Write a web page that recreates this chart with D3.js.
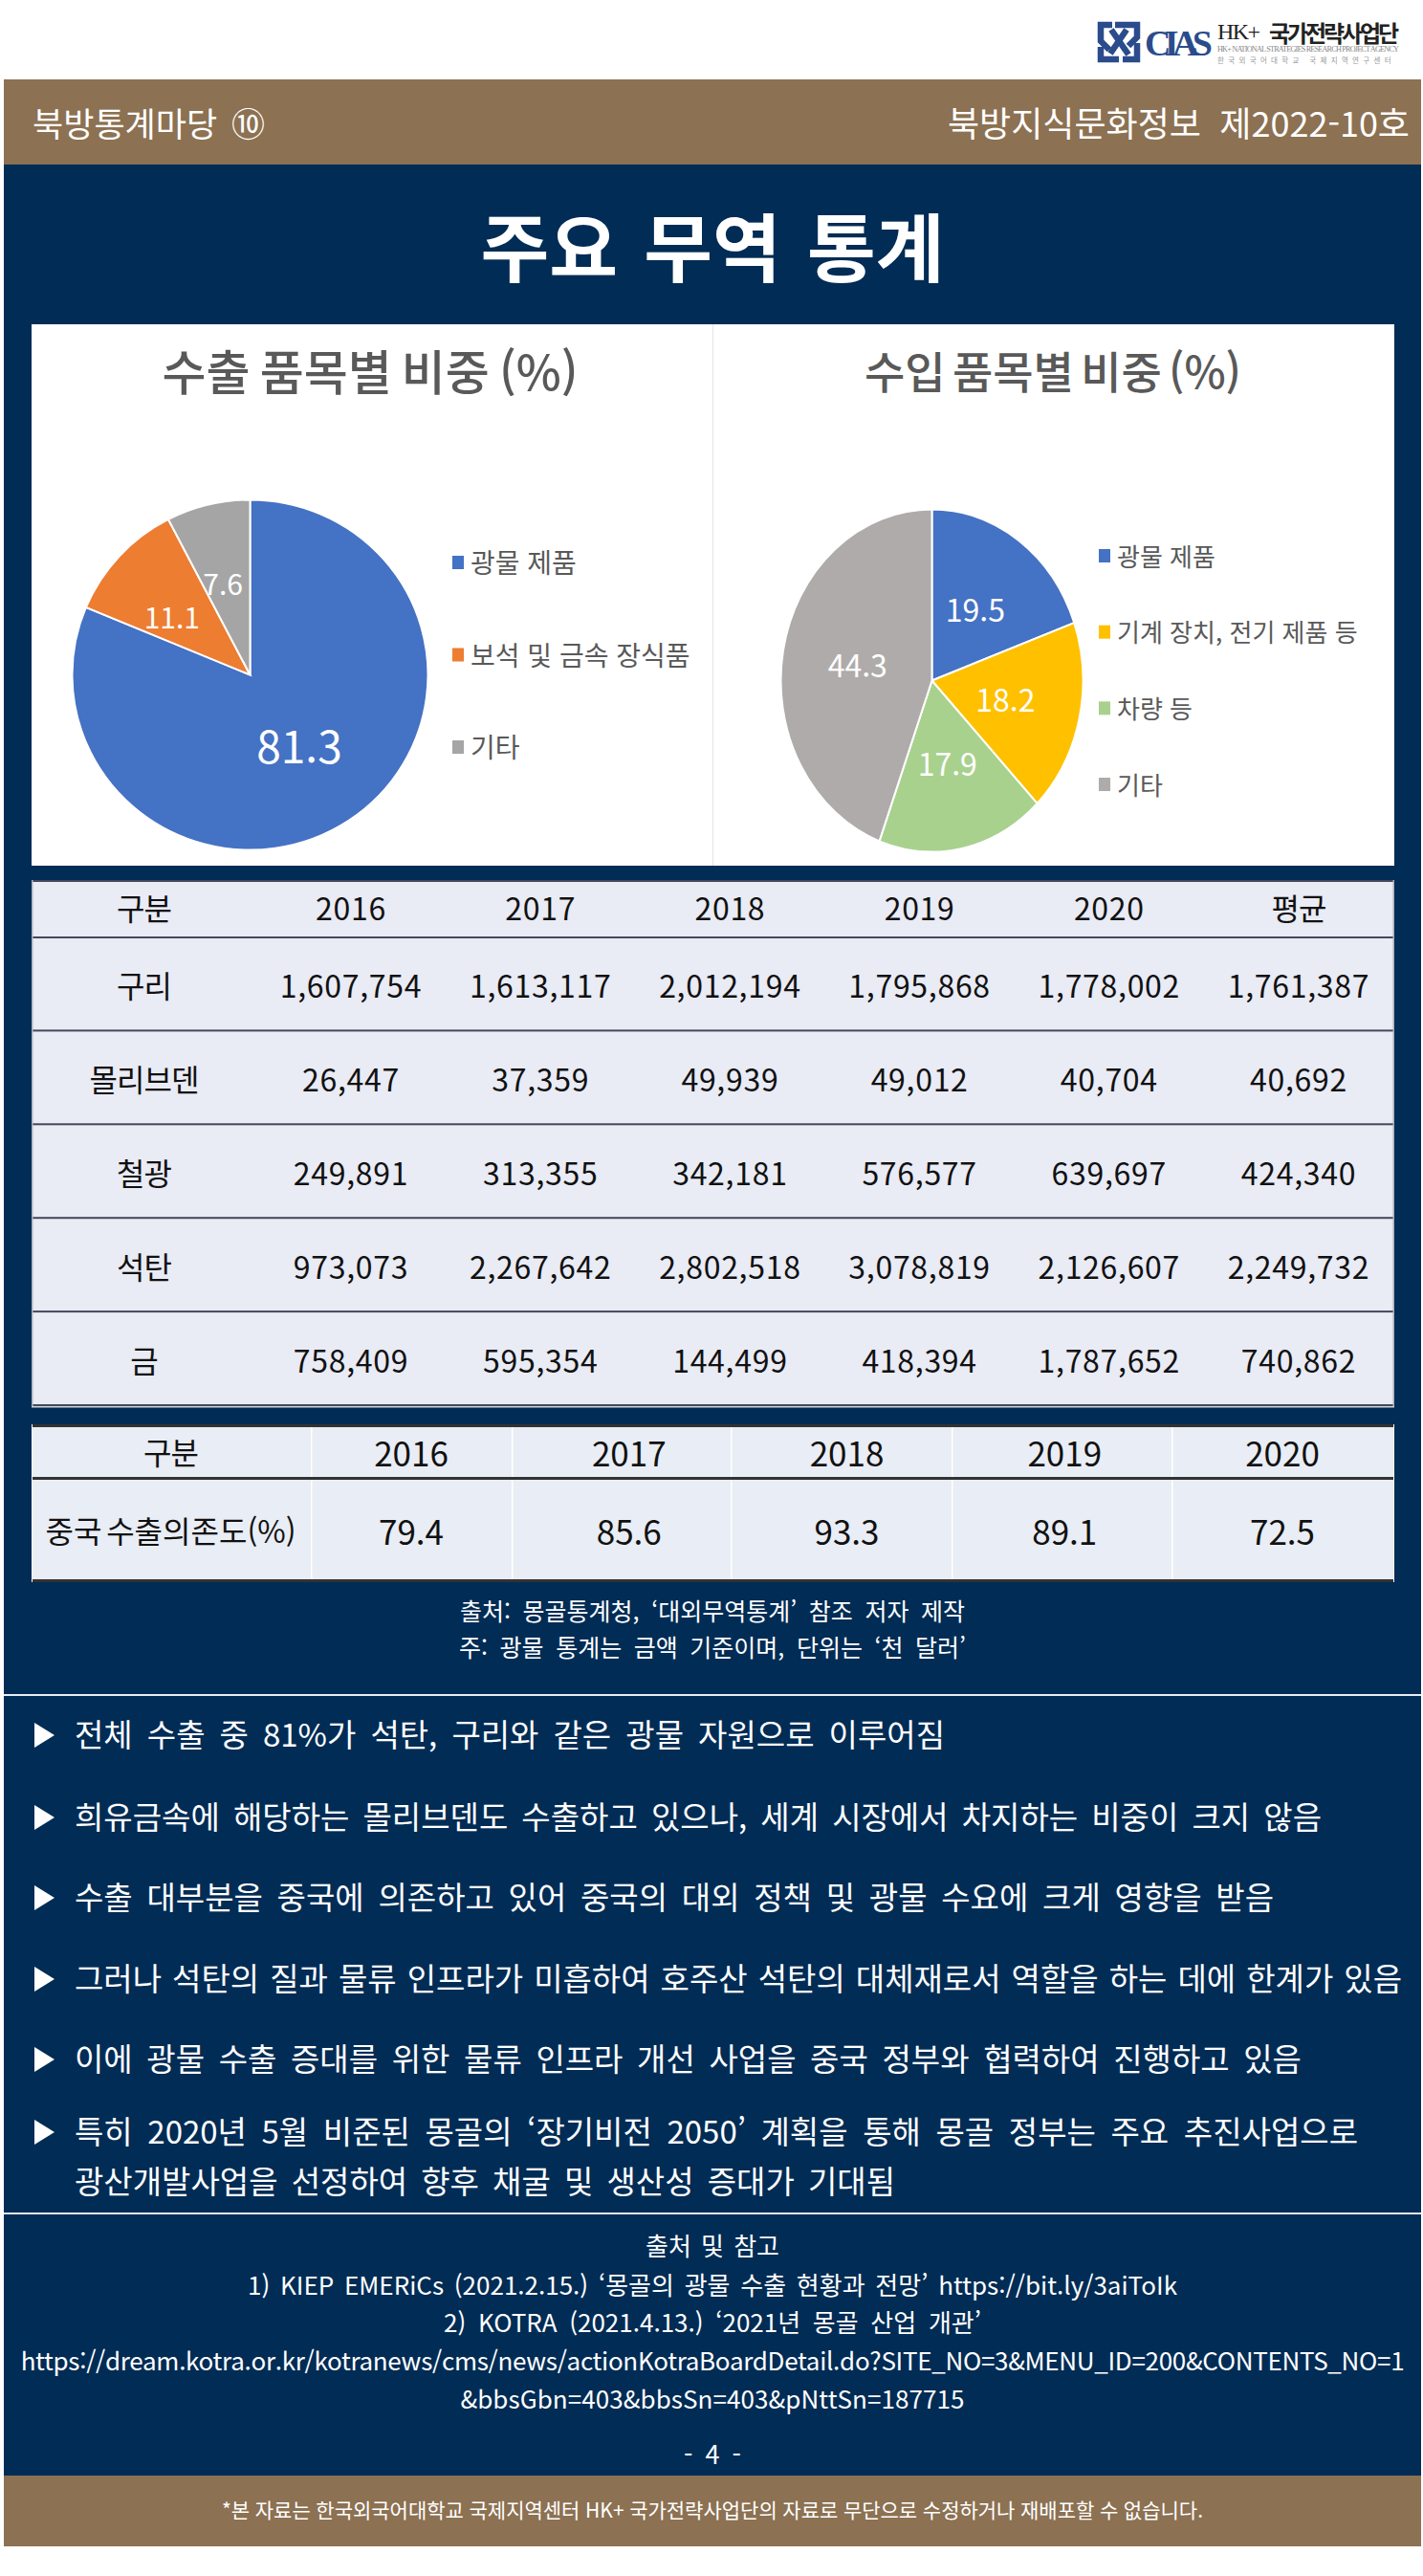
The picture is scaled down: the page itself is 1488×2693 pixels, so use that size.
<![CDATA[<!DOCTYPE html>
<html lang="ko"><head><meta charset="utf-8">
<script src="https://cdn.jsdelivr.net/npm/d3@7/dist/d3.min.js"></script>
<style>
html,body{margin:0;padding:0;background:#fff}
svg{display:block}
text{font-family:"Noto Sans CJK KR","Noto Sans",sans-serif}
</style></head><body>
<svg id="c" width="1488" height="2693"></svg>
<script>
const exportLabels = ["광물 제품","보석 및 금속 장식품","기타"];
const exportValues = [81.3,11.1,7.6];
const exportColors = ["#4472C4","#ED7D31","#A5A5A5"];
const importLabels = ["광물 제품","기계 장치, 전기 제품 등","차량 등","기타"];
const importValues = [19.5,18.2,17.9,44.3];
const importColors = ["#4472C4","#FFC000","#A9D18E","#AFABAB"];
const tableColumns = ["2016","2017","2018","2019","2020","평균"];
const tableRows = ["구리","몰리브덴","철광","석탄","금"];
const copper = ["1,607,754","1,613,117","2,012,194","1,795,868","1,778,002","1,761,387"];
const molybdenum = ["26,447","37,359","49,939","49,012","40,704","40,692"];
const ironOre = ["249,891","313,355","342,181","576,577","639,697","424,340"];
const coal = ["973,073","2,267,642","2,802,518","3,078,819","2,126,607","2,249,732"];
const gold = ["758,409","595,354","144,499","418,394","1,787,652","740,862"];
const tableValues = [copper,molybdenum,ironOre,coal,gold];
const dependYears = ["2016","2017","2018","2019","2020"];
const dependLabel = "중국 수출의존도(%)";
const dependValues = ["79.4","85.6","93.3","89.1","72.5"];
const notes = ["출처: 몽골통계청, ‘대외무역통계’ 참조 저자 제작","주: 광물 통계는 금액 기준이며, 단위는 ‘천 달러’"];
const bullets = ["전체 수출 중 81%가 석탄, 구리와 같은 광물 자원으로 이루어짐",
"희유금속에 해당하는 몰리브덴도 수출하고 있으나, 세계 시장에서 차지하는 비중이 크지 않음",
"수출 대부분을 중국에 의존하고 있어 중국의 대외 정책 및 광물 수요에 크게 영향을 받음",
"그러나 석탄의 질과 물류 인프라가 미흡하여 호주산 석탄의 대체재로서 역할을 하는 데에 한계가 있음",
"이에 광물 수출 증대를 위한 물류 인프라 개선 사업을 중국 정부와 협력하여 진행하고 있음",
"특히 2020년 5월 비준된 몽골의 ‘장기비전 2050’ 계획을 통해 몽골 정부는 주요 추진사업으로",
"광산개발사업을 선정하여 향후 채굴 및 생산성 증대가 기대됨"];
const sources = ["출처 및 참고","1) KIEP EMERiCs (2021.2.15.) ‘몽골의 광물 수출 현황과 전망’ https://bit.ly/3aiToIk","2) KOTRA (2021.4.13.) ‘2021년 몽골 산업 개관’","https://dream.kotra.or.kr/kotranews/cms/news/actionKotraBoardDetail.do?SITE_NO=3&MENU_ID=200&CONTENTS_NO=1","&bbsGbn=403&bbsSn=403&pNttSn=187715"];

const NAVY="#012C55", BROWN="#8C7152", LINE="#44495A";
const svg=d3.select("#c");

function T(x,y,s,size,opt={}){
  const t=svg.append("text").attr("x",x).attr("y",y-2).text(s)
    .attr("font-size",size).attr("fill",opt.fill||"#fff")
    .attr("text-anchor",opt.anchor||"start")
    .attr("dominant-baseline","central")
    .attr("font-weight",opt.weight||400);
  if(opt.family) t.style("font-family",opt.family);
  if(opt.ls!==undefined) t.attr("letter-spacing",opt.ls);
  if(opt.width){
    const len=t.node().getComputedTextLength();
    const sp=(s.match(/ /g)||[]).length;
    if(opt.letter||!sp) t.attr("letter-spacing",((opt.width-len)/Math.max(1,s.length-1)).toFixed(3));
    else t.attr("word-spacing",((opt.width-len)/sp).toFixed(3));
  }
  return t;
}
function R(x,y,w,h,f){return svg.append("rect").attr("x",x).attr("y",y).attr("width",w).attr("height",h).attr("fill",f);}

// page frame
R(4,172,1482,2416,NAVY);
R(4,83,1482,89,BROWN);
R(4,2588,1482,74,BROWN);
R(4,1771,1482,2,"#e8edf2");
R(4,2313,1482,2,"#e8edf2");

// logo
const m=svg.append("g").attr("transform","translate(1148,23)").attr("fill","none").attr("stroke","#2B4C8C").attr("stroke-width",6.5);
m.append("path").attr("d","M15 3H3V20L12 29");
m.append("path").attr("d","M18 3H41V16L32 25");
m.append("path").attr("d","M3 26V39H22");
m.append("path").attr("d","M26 39H41V22");
m.append("path").attr("d","M14 8L32 34");
m.append("path").attr("d","M30 8L13 33");
T(1197,47,"CIAS",38,{fill:"#2B4C8C",family:"Liberation Serif",weight:700,width:71});
T(1273,35,"HK+",24,{fill:"#222",family:"Liberation Serif",width:45});
T(1327,35,"국가전략사업단",24,{fill:"#222",weight:700,width:136,letter:true});
T(1273,53,"HK+ NATIONAL STRATEGIES RESEARCH PROJECT AGENCY",8.2,{fill:"#888",family:"Liberation Serif",width:190,letter:true});
T(1273,64,"한국외국어대학교  국제지역연구센터",7.5,{fill:"#999",width:186,letter:true});

// header / footer text
T(34,129,"북방통계마당 ⑩",35,{width:243});
T(1474,129,"북방지식문화정보 제2022-10호",36,{anchor:"end",width:483});
T(745,257,"주요 무역 통계",78,{anchor:"middle",weight:700,width:485});

// chart panel
R(33,339,1425,566,"#fff");
R(745,339,1,566,"#e4e4e4");
T(387,388,"수출 품목별 비중 (%)",50,{anchor:"middle",fill:"#595959",weight:500,width:435});
T(1101,388,"수입 품목별 비중 (%)",46,{anchor:"middle",fill:"#595959",weight:500,width:394});

function pie(values,labels,colors,cx,cy,rx,ry,labelSizes,labelR,nudge,legend,legendSize){
  const arcs=d3.pie().sort(null).value(d=>d)(values);
  const arc=d3.arc().innerRadius(0).outerRadius(ry);
  const g=svg.append("g").attr("transform",`translate(${cx},${cy}) scale(${rx/ry},1)`);
  g.selectAll("path").data(arcs).join("path").attr("d",arc)
    .attr("fill",(d,i)=>colors[i]).attr("stroke","#fff").attr("stroke-width",2)
    .attr("vector-effect","non-scaling-stroke");
  arcs.forEach((d,i)=>{
    const lab=d3.arc().innerRadius(0).outerRadius(ry*labelR[i]*2).centroid(d);
    const n=nudge[i]||[0,0];
    T(cx+lab[0]*rx/ry+n[0],cy+lab[1]+n[1],values[i].toFixed(1),labelSizes[i],{anchor:"middle"});
  });
  const ly=d3.scalePoint().domain(labels).range(legend.y);
  labels.forEach(l=>{
    R(legend.x,ly(l)-7,12,14,colors[labels.indexOf(l)]);
    T(legend.x+19,ly(l)+1,l,legendSize,{fill:"#595959"});
  });
}
pie(exportValues,exportLabels,exportColors,261.5,705.5,186,183,[46,30,30],[.5,.59,.53],[[0,-2],[-1,14],[-5,0]],{x:473,y:[588,781]},28);
pie(importValues,importLabels,importColors,974.5,711.5,158,179,[32,32,32,32],[.5,.5,.5,.5],[],{x:1149,y:[581,820]},26);

// table 1
R(33,920,1425,550,"#E9EBF5");
const xT=d3.scalePoint().domain(tableColumns).range([367,1358]);
const yT=d3.scaleBand().domain(tableRows).range([979.5,1469]);
const tsz=32;
const hs={anchor:"middle",fill:"#111",ls:-1}, ds={anchor:"middle",fill:"#111",ls:.7};
T(150.5,950,"구분",tsz,hs);
tableColumns.forEach(c=>T(xT(c),950,c,tsz,c==="평균"?hs:ds));
tableRows.forEach((r,i)=>{
  const yc=yT(r)+yT.bandwidth()/2+3;
  T(150.5,yc,r,tsz,hs);
  tableColumns.forEach((c,j)=>T(xT(c),yc,tableValues[i][j],tsz,ds));
});
R(33,920,1425,2,LINE);
R(33,979,1425,2,LINE);
tableRows.forEach(r=>{ R(33,yT(r)+yT.bandwidth()-1,1425,2,LINE); });
R(33,1470,1425,1.5,"#cfd3de");
R(33,920,1.5,550,"#aeb2bf"); R(1456.5,920,1.5,550,"#aeb2bf");

// table 2
R(33,1489,1425,164,"#E9EDF5");
const xD=d3.scalePoint().domain(dependYears).range([430,1341]);
T(178.5,1519,"구분",32,hs);
dependYears.forEach(y=>T(xD(y),1519,y,35,{anchor:"middle",fill:"#111"}));
T(178.5,1601,dependLabel,32,{anchor:"middle",fill:"#111",width:262});
dependYears.forEach((y,i)=>T(xD(y),1601,dependValues[i],35,{anchor:"middle",fill:"#111"}));
[325,535,764,995,1225].forEach(x=>R(x,1490,1.5,162,"#fff"));
R(33,1489,1425,3,"#333");
R(33,1544,1425,3,"#333");
R(33,1651,1425,3,"#333");
R(33,1489,1,165,"#fff"); R(1457,1489,1,165,"#fff");

// notes
[[1685,528],[1723,530]].forEach((p,i)=>T(745,p[0],notes[i],25,{anchor:"middle",width:p[1]}));

// bullets
const by=[1814,1900,1984,2069,2153,2229,2281];
const bw=[910,1304,1254,1388,1283,1342,858];
bullets.forEach((b,i)=>{
  if(i<6) svg.append("path").attr("fill","#fff")
    .attr("d",d3.line()([[36,by[i]-13],[57,by[i]],[36,by[i]+13]])+"Z");
  T(78,by[i],b,33,{width:bw[i]});
});

// sources
const sy=[2348,2389,2428,2468,2508], sw=[140,972,562,1447,527];
sources.forEach((s,i)=>T(745,sy[i],s,26,{anchor:"middle",width:sw[i],letter:i>=3}));
T(745,2566,"- 4 -",27,{anchor:"middle",width:60});
T(745,2625,"*본 자료는 한국외국어대학교 국제지역센터 HK+ 국가전략사업단의 자료로 무단으로 수정하거나 재배포할 수 없습니다.",21,{anchor:"middle",width:1026});
</script></body></html>]]>
